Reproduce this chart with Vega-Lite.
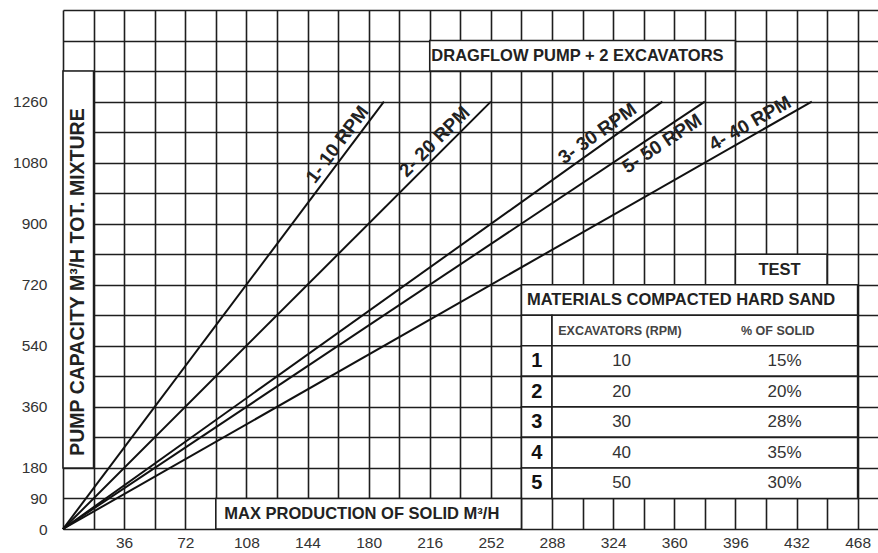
{
  "$schema": "https://vega.github.io/schema/vega-lite/v6.json",
  "autosize": "none",
  "width": 815,
  "height": 519,
  "padding": {"left": 63, "top": 10, "right": 0, "bottom": 24},
  "background": "white",
  "config": {"view": {"stroke": null}, "font": "Liberation Sans"},
  "datasets": {
    "lines": [
      {"curve": "1", "x": 0, "y": 0}, {"curve": "1", "x": 189, "y": 1260},
      {"curve": "2", "x": 0, "y": 0}, {"curve": "2", "x": 252, "y": 1260},
      {"curve": "3", "x": 0, "y": 0}, {"curve": "3", "x": 353, "y": 1260},
      {"curve": "4", "x": 0, "y": 0}, {"curve": "4", "x": 441, "y": 1260},
      {"curve": "5", "x": 0, "y": 0}, {"curve": "5", "x": 378, "y": 1260}
    ],
    "cells": [
      {"x": 396, "x2": 450, "y": 720, "y2": 810},
      {"x": 270, "x2": 468, "y": 630, "y2": 720},
      {"x": 270, "x2": 288, "y": 540, "y2": 630}, {"x": 288, "x2": 468, "y": 540, "y2": 630},
      {"x": 270, "x2": 288, "y": 450, "y2": 540}, {"x": 288, "x2": 468, "y": 450, "y2": 540},
      {"x": 270, "x2": 288, "y": 360, "y2": 450}, {"x": 288, "x2": 468, "y": 360, "y2": 450},
      {"x": 270, "x2": 288, "y": 270, "y2": 360}, {"x": 288, "x2": 468, "y": 270, "y2": 360},
      {"x": 270, "x2": 288, "y": 180, "y2": 270}, {"x": 288, "x2": 468, "y": 180, "y2": 270},
      {"x": 270, "x2": 288, "y": 90, "y2": 180}, {"x": 288, "x2": 468, "y": 90, "y2": 180},
      {"x": 90, "x2": 270, "y": 0, "y2": 90},
      {"x": 0, "x2": 18, "y": 180, "y2": 1350},
      {"x": 216, "x2": 396, "y": 1350, "y2": 1440}
    ],
    "texts": [
      {"role": "title", "x": 303, "y": 1395, "text": "DRAGFLOW PUMP + 2 EXCAVATORS"},
      {"role": "xtitle", "x": 176, "y": 45, "text": "MAX PRODUCTION OF SOLID M³/H"},
      {"role": "ytitle", "x": 9, "y": 728, "text": "PUMP CAPACITY M³/H TOT. MIXTURE"},
      {"role": "tablehead", "x": 422, "y": 765, "text": "TEST"},
      {"role": "tablehead", "x": 364, "y": 675, "text": "MATERIALS COMPACTED HARD SAND"},
      {"role": "colhead", "x": 328, "y": 585, "text": "EXCAVATORS (RPM)"},
      {"role": "colhead", "x": 421, "y": 585, "text": "% OF SOLID"},
      {"role": "rowno", "x": 279, "y": 495, "text": "1"},
      {"role": "rowno", "x": 279, "y": 405, "text": "2"},
      {"role": "rowno", "x": 279, "y": 315, "text": "3"},
      {"role": "rowno", "x": 279, "y": 225, "text": "4"},
      {"role": "rowno", "x": 279, "y": 135, "text": "5"},
      {"role": "value", "x": 329, "y": 495, "text": "10"},
      {"role": "value", "x": 329, "y": 405, "text": "20"},
      {"role": "value", "x": 329, "y": 315, "text": "30"},
      {"role": "value", "x": 329, "y": 225, "text": "40"},
      {"role": "value", "x": 329, "y": 135, "text": "50"},
      {"role": "value", "x": 425, "y": 495, "text": "15%"},
      {"role": "value", "x": 425, "y": 405, "text": "20%"},
      {"role": "value", "x": 425, "y": 315, "text": "28%"},
      {"role": "value", "x": 425, "y": 225, "text": "35%"},
      {"role": "value", "x": 425, "y": 135, "text": "30%"}
    ],
    "labels": [
      {"curve": "1", "x": 167, "y": 1113, "text": "1- 10 RPM"},
      {"curve": "2", "x": 223.6, "y": 1118, "text": "2- 20 RPM"},
      {"curve": "3", "x": 318.7, "y": 1138, "text": "3- 30 RPM"},
      {"curve": "4", "x": 408, "y": 1166, "text": "4- 40 RPM"},
      {"curve": "5", "x": 349, "y": 1164, "text": "5- 50 RPM"}
    ]
  },
  "encoding": {
    "x": {
      "field": "x", "type": "quantitative",
      "scale": {"domain": [0, 480], "nice": false, "zero": false},
      "axis": {
        "title": null,
        "values": [0, 18, 36, 54, 72, 90, 108, 126, 144, 162, 180, 198, 216, 234, 252, 270, 288, 306, 324, 342, 360, 378, 396, 414, 432, 450, 468],
        "format": "d",
        "labelExpr": "datum.value > 0 && datum.value % 36 == 0 ? datum.label : ''",
        "grid": true, "gridColor": "#1e1e1e", "gridWidth": 1.6,
        "domain": false, "ticks": false,
        "labelFontSize": 15.5, "labelColor": "#333", "labelFont": "Liberation Sans",
        "labelPadding": 6, "labelBaseline": "top",
        "labelOverlap": false, "labelFlush": false, "labelBound": false
      }
    },
    "y": {
      "field": "y", "type": "quantitative",
      "scale": {"domain": [0, 1530], "nice": false, "zero": false},
      "axis": {
        "title": null,
        "values": [0, 90, 180, 270, 360, 450, 540, 630, 720, 810, 900, 990, 1080, 1170, 1260, 1350, 1440, 1530],
        "format": "d",
        "labelExpr": "(datum.value == 90 || datum.value % 180 == 0) && datum.value <= 1260 ? datum.label : ''",
        "grid": true, "gridColor": "#1e1e1e", "gridWidth": 1.6,
        "domain": false, "ticks": false,
        "labelFontSize": 15.5, "labelColor": "#333", "labelFont": "Liberation Sans",
        "labelPadding": 16, "labelBaseline": "middle",
        "labelOverlap": false, "labelFlush": false, "labelBound": false
      }
    }
  },
  "layer": [
    {
      "data": {"name": "lines"},
      "mark": {"type": "line", "color": "#111", "strokeWidth": 2},
      "encoding": {"detail": {"field": "curve", "type": "nominal"}}
    },
    {
      "data": {"name": "cells"},
      "mark": {"type": "rect", "fill": "white", "stroke": "#1e1e1e", "strokeWidth": 1.6},
      "encoding": {"x2": {"field": "x2"}, "y2": {"field": "y2"}}
    },
    {
      "data": {"name": "texts"},
      "transform": [{"filter": "datum.role == 'title' || datum.role == 'xtitle' || datum.role == 'tablehead'"}],
      "mark": {"type": "text", "fontSize": 16.5, "fontWeight": "bold", "color": "#222", "align": "center", "baseline": "middle"},
      "encoding": {"text": {"field": "text"}}
    },
    {
      "data": {"name": "texts"},
      "transform": [{"filter": "datum.role == 'ytitle'"}],
      "mark": {"type": "text", "fontSize": 19.5, "fontWeight": "bold", "color": "#222", "align": "center", "baseline": "middle", "angle": -90},
      "encoding": {"text": {"field": "text"}}
    },
    {
      "data": {"name": "texts"},
      "transform": [{"filter": "datum.role == 'colhead'"}],
      "mark": {"type": "text", "fontSize": 12.5, "fontWeight": "bold", "color": "#444", "align": "center", "baseline": "middle"},
      "encoding": {"text": {"field": "text"}}
    },
    {
      "data": {"name": "texts"},
      "transform": [{"filter": "datum.role == 'rowno'"}],
      "mark": {"type": "text", "fontSize": 20, "fontWeight": "bold", "color": "#111", "align": "center", "baseline": "middle"},
      "encoding": {"text": {"field": "text"}}
    },
    {
      "data": {"name": "texts"},
      "transform": [{"filter": "datum.role == 'value'"}],
      "mark": {"type": "text", "fontSize": 17, "color": "#333", "align": "center", "baseline": "middle"},
      "encoding": {"text": {"field": "text"}}
    },
    {
      "data": {"name": "labels"},
      "transform": [{"filter": "datum.curve == '1'"}],
      "mark": {"type": "text", "fontSize": 19, "fontWeight": "bold", "color": "#222", "align": "center", "baseline": "bottom", "dy": -1.5, "angle": -53.1},
      "encoding": {"text": {"field": "text"}}
    },
    {
      "data": {"name": "labels"},
      "transform": [{"filter": "datum.curve == '2'"}],
      "mark": {"type": "text", "fontSize": 19, "fontWeight": "bold", "color": "#222", "align": "center", "baseline": "bottom", "dy": -1.5, "angle": -45},
      "encoding": {"text": {"field": "text"}}
    },
    {
      "data": {"name": "labels"},
      "transform": [{"filter": "datum.curve == '3'"}],
      "mark": {"type": "text", "fontSize": 19, "fontWeight": "bold", "color": "#222", "align": "center", "baseline": "bottom", "dy": -1.5, "angle": -35.5},
      "encoding": {"text": {"field": "text"}}
    },
    {
      "data": {"name": "labels"},
      "transform": [{"filter": "datum.curve == '4'"}],
      "mark": {"type": "text", "fontSize": 19, "fontWeight": "bold", "color": "#222", "align": "center", "baseline": "bottom", "dy": -1.5, "angle": -29.7},
      "encoding": {"text": {"field": "text"}}
    },
    {
      "data": {"name": "labels"},
      "transform": [{"filter": "datum.curve == '5'"}],
      "mark": {"type": "text", "fontSize": 19, "fontWeight": "bold", "color": "#222", "align": "center", "baseline": "top", "dy": 2.5, "angle": -33.7},
      "encoding": {"text": {"field": "text"}}
    }
  ]
}
